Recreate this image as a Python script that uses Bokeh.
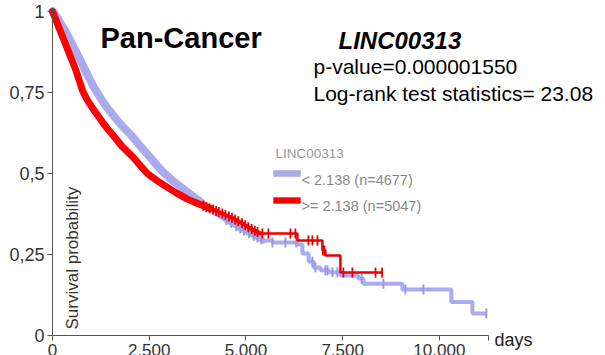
import numpy as np
from bokeh.plotting import figure
from bokeh.models import Range1d, FixedTicker, Label, BoxAnnotation
from bokeh.embed import file_html
from bokeh.resources import INLINE

# ---------------- data ----------------
# low expression group (< 2.138), dense part of the curve (days, survival)
blue_t = [0, 100, 200, 330, 450, 580, 720, 880, 1060, 1280, 1450, 1650, 1850, 2070, 2300, 2500,
          2700, 2870, 3100, 3300, 3550, 3850, 4050, 4250, 4450, 4600, 4800, 5040, 5250, 5452]
blue_s = [1.0, 0.985, 0.965, 0.94, 0.912, 0.882, 0.85, 0.81, 0.768, 0.725, 0.697, 0.667, 0.64, 0.613,
          0.58, 0.553, 0.525, 0.503, 0.478, 0.46, 0.437, 0.41, 0.392, 0.375, 0.36, 0.349, 0.333,
          0.318, 0.305, 0.293]
# low expression group, step tail
blue_tail_t = [5452, 5685, 6331, 6460, 6620, 6750, 6925, 7150, 7442, 7900, 8036, 9044, 10310, 10853, 11214]
blue_tail_s = [0.293, 0.287, 0.281, 0.253, 0.228, 0.21, 0.201, 0.195, 0.185, 0.176, 0.160, 0.142, 0.103, 0.068, 0.068]
# censor marks, low group (days)
blue_cens = [4500, 4620, 4750, 4850, 4950, 5080, 5200, 5300, 5400, 5685, 6021, 6300, 6718, 6796,
             7054, 7106, 7235, 7364, 7990, 8553, 9121, 9587, 11214]

# high expression group (>= 2.138), dense part
red_t = [0, 100, 200, 300, 400, 500, 600, 700, 775, 900, 1060, 1180, 1300, 1420, 1550, 1800, 2090,
         2250, 2450, 2700, 2970, 3200, 3500, 3800, 4080, 4400, 4680, 4900, 5120, 5375]
red_s = [1.0, 0.97, 0.94, 0.91, 0.88, 0.85, 0.82, 0.783, 0.756, 0.726, 0.697, 0.677, 0.657, 0.638,
         0.62, 0.583, 0.549, 0.527, 0.50, 0.478, 0.457, 0.44, 0.42, 0.405, 0.392, 0.376, 0.361,
         0.346, 0.330, 0.315]
# high expression group, step tail
red_tail_t = [5375, 6331, 6977, 7054, 7442, 8527]
red_tail_s = [0.315, 0.293, 0.262, 0.247, 0.194, 0.194]
# censor marks, high group (days)
red_cens = [3900, 3980, 4060, 4150, 4230, 4300, 4390, 4470, 4560, 4640, 4720, 4800, 4900, 4980,
            5060, 5150, 5230, 5300, 5426, 5581, 6150, 6279, 6615, 6718, 6848, 6990, 7030,
            7519, 7752, 8350, 8520]

x_ticks = [0, 2500, 5000, 7500, 10000]
x_tick_labels = ["0", "2.500", "5.000", "7.500", "10.000"]
y_ticks = [0, 0.25, 0.5, 0.75, 1]
y_tick_labels = ["0", "0,25", "0,5", "0,75", "1"]

gene = "LINC00313"
title = "Pan-Cancer"
pvalue_text = "p-value=0.000001550"
logrank_text = "Log-rank test statistics= 23.08"
legend_labels = ["< 2.138 (n=4677)", ">= 2.138 (n=5047)"]

# ---------------- layout ----------------
W, H = 605, 355
X0_PX, Y0_PX = 52, 335          # pixel position of (0 days, survival 0)
X_END = 11270                   # end of the drawn x axis (days)
Y_END = 1.012                   # top of the drawn y axis
SX = 436 / X_END                # px per day
SY = 328 / Y_END                # px per survival unit

def dx(px):
    return (px - X0_PX) / SX

def dy(py):
    return (Y0_PX - py) / SY

BLUE = "#aaaaee"
BLUE_MARK = "#9a9ae0"
RED = "#ff0000"
RED_TAIL = "#e60000"
FONT = "Liberation Sans"

p = figure(width=W, height=H,
           x_range=Range1d(dx(0), dx(W)), y_range=Range1d(dy(H), dy(0)),
           output_backend="svg", toolbar_location=None, title=None,
           min_border_left=0, min_border_right=0, min_border_top=0, min_border_bottom=0)
p.outline_line_color = None
p.xgrid.visible = False
p.ygrid.visible = False
p.background_fill_color = "white"
p.border_fill_color = "white"

# axes, placed at the data origin inside the frame
p.xaxis.fixed_location = 0
p.yaxis.fixed_location = 0
p.xaxis.bounds = (0, X_END)
p.yaxis.bounds = (0, Y_END)
p.xaxis.ticker = FixedTicker(ticks=x_ticks + [X_END])
ov = {t: s for t, s in zip(x_ticks, x_tick_labels)}
ov[X_END] = ""
p.xaxis.major_label_overrides = ov
p.yaxis.ticker = FixedTicker(ticks=y_ticks)
p.yaxis.major_label_overrides = {t: s for t, s in zip(y_ticks, y_tick_labels)}
for ax in (p.xaxis, p.yaxis):
    ax.axis_line_color = "#555555"
    ax.major_tick_line_color = "#555555"
    ax.major_tick_out = 5
    ax.major_tick_in = 0
    ax.minor_tick_line_color = None
    ax.major_label_text_font = FONT
    ax.major_label_text_color = "#333333"
    ax.major_label_standoff = 3
p.xaxis.major_label_text_font_size = "17px"
p.yaxis.major_label_text_font_size = "18px"


def surv_at(t, dt, ds, tt, ts):
    if t <= dt[-1]:
        return float(np.interp(t, dt, ds))
    i = int(np.searchsorted(tt, t, side="right")) - 1
    return ts[i]


# low group
kb = blue_t.index(3850) + 1
p.line(blue_t, blue_s, line_width=5.5, color=BLUE, line_join="round", line_cap="round")
p.line(blue_t[:kb], blue_s[:kb], line_width=8, color=BLUE, line_join="round", line_cap="round")
p.step(blue_tail_t, blue_tail_s, mode="after", line_width=4, color=BLUE)
bys = [surv_at(t, blue_t, blue_s, blue_tail_t, blue_tail_s) for t in blue_cens]
p.scatter(blue_cens, bys, marker="dash", angle=np.pi / 2, size=10, line_color=BLUE_MARK, line_width=2)

# high group
kr = red_t.index(4080) + 1
p.line(red_t, red_s, line_width=4, color=RED, line_join="round", line_cap="round")
p.line(red_t[:kr], red_s[:kr], line_width=7, color=RED, line_join="round", line_cap="round")
p.step(red_tail_t, red_tail_s, mode="after", line_width=2.5, color=RED_TAIL)
rys = [surv_at(t, red_t, red_s, red_tail_t, red_tail_s) for t in red_cens]
p.scatter(red_cens, rys, marker="dash", angle=np.pi / 2, size=10, line_color=RED_TAIL, line_width=1.8)

# texts
def lab(text, px, py, size, color="black", style="normal", angle=0.0):
    p.add_layout(Label(x=dx(px), y=dy(py), text=text, text_font=FONT, text_font_size=size,
                       text_color=color, text_font_style=style, text_baseline="alphabetic",
                       text_align="left", angle=angle))

lab(title, 100, 37, "29px", style="bold")
lab(gene, 338, 40, "24px", style="bold italic")
lab(pvalue_text, 313, 66, "21px")
lab(logrank_text, 313, 93, "21px")
lab("days", 494, 339, "18px", color="#222222")
lab("Survival probability", 72, 329, "17px", color="#333333", angle=np.pi / 2)

# legend
lab(gene, 275, 153, "13.5px", color="#999999")
lab(legend_labels[0], 301, 179, "14.5px", color="#888888")
lab(legend_labels[1], 301, 205, "14.5px", color="#888888")
p.add_layout(BoxAnnotation(left=dx(273), right=dx(300), top=dy(170), bottom=dy(176),
                           fill_color=BLUE, fill_alpha=1, line_color="#8888aa", line_width=1))
p.add_layout(BoxAnnotation(left=dx(273), right=dx(300), top=dy(197), bottom=dy(203),
                           fill_color=RED, fill_alpha=1, line_color="#990000", line_width=1))

open("out.html", "w").write(file_html(p, INLINE))
